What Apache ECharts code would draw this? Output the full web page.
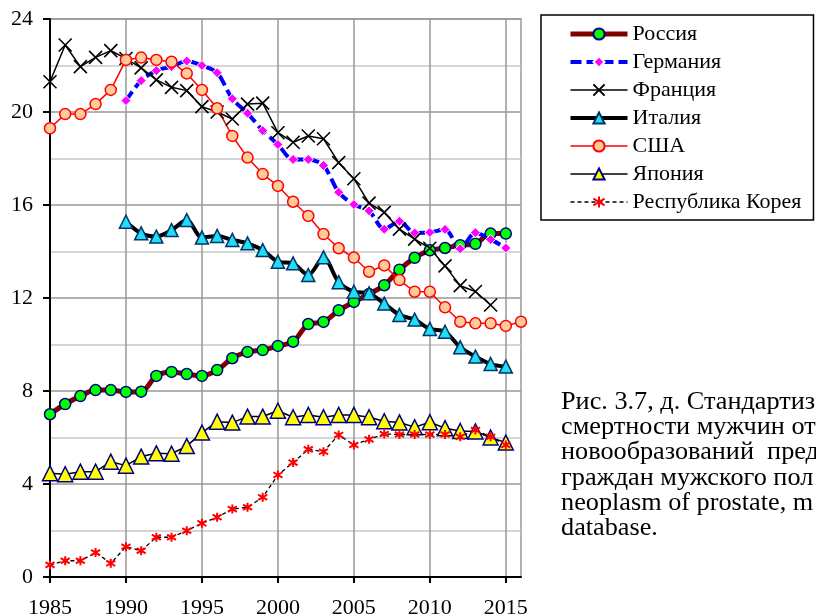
<!DOCTYPE html>
<html>
<head>
<meta charset="utf-8">
<script src="https://cdn.jsdelivr.net/npm/echarts@6/dist/echarts.min.js"></script>
<style>
  html, body { margin: 0; padding: 0; background: #fff; }
  #chart { width: 816px; height: 616px; }
</style>
</head>
<body>
<div id="chart"></div>
<script>
// годы
let years = [];
for (let y = 1985; y <= 2016; y++) years.push(y);

// значения по странам (null - нет данных)
let russia = [7.0, 7.44, 7.78, 8.04, 8.04, 7.96, 7.97, 8.65, 8.82, 8.73, 8.65, 8.9, 9.41, 9.68, 9.76, 9.94,
  10.12, 10.88, 10.97, 11.47, 11.83, 12.17, 12.55, 13.22, 13.73, 14.05, 14.15, 14.27, 14.33, 14.77, 14.77, null];
let germany = [null, null, null, null, null, 20.49, 21.35, 21.78, 21.95, 22.19, 22.0, 21.69, 20.57, 19.95, 19.2, 18.6,
  17.96, 17.96, 17.7, 16.55, 16.02, 15.75, 14.96, 15.3, 14.8, 14.82, 14.95, 14.12, 14.81, 14.52, 14.15, null];
let france = [21.3, 22.88, 21.95, 22.35, 22.64, 22.3, 21.9, 21.38, 21.06, 20.92, 20.23, 20.0, 19.7, 20.34, 20.38, 19.11,
  18.7, 18.97, 18.85, 17.82, 17.13, 16.08, 15.68, 14.96, 14.53, 14.14, 13.38, 12.53, 12.28, 11.7, null, null];
let italy = [null, null, null, null, null, 15.28, 14.78, 14.64, 14.92, 15.35, 14.6, 14.67, 14.5, 14.35, 14.06, 13.56,
  13.49, 12.99, 13.75, 12.68, 12.27, 12.2, 11.76, 11.27, 11.07, 10.67, 10.55, 9.88, 9.48, 9.16, 9.05, null];
let usa = [19.3, 19.91, 19.91, 20.34, 20.95, 22.24, 22.34, 22.24, 22.16, 21.66, 20.95, 20.16, 18.97, 18.04, 17.33, 16.82,
  16.14, 15.53, 14.75, 14.14, 13.74, 13.13, 13.4, 12.77, 12.27, 12.27, 11.6, 10.98, 10.91, 10.91, 10.8, 10.98];
let japan = [4.46, 4.42, 4.53, 4.53, 4.96, 4.79, 5.18, 5.32, 5.3, 5.63, 6.21, 6.68, 6.64, 6.9, 6.9, 7.15,
  6.87, 6.97, 6.87, 6.97, 6.97, 6.87, 6.7, 6.65, 6.44, 6.66, 6.4, 6.28, 6.26, 6.0, 5.78, null];
let korea = [0.52, 0.7, 0.7, 1.05, 0.59, 1.3, 1.13, 1.71, 1.71, 1.99, 2.31, 2.57, 2.92, 3.0, 3.43, 4.39,
  4.92, 5.49, 5.39, 6.11, 5.68, 5.92, 6.15, 6.13, 6.13, 6.13, 6.13, 6.03, 6.32, 6.03, 5.68, null];

// подписи
let names = ['Россия', 'Германия', 'Франция', 'Италия', 'США', 'Япония', 'Республика Корея'];
let caption = [
  'Рис. 3.7, д. Стандартиз',
  'смертности мужчин от',
  'новообразований  пред',
  'граждан мужского пол',
  'neoplasm of prostate, m',
  'database.'
];

const FONT = 'Liberation Serif';

// пары [год, значение] без пропусков
function pairs(arr) {
  let out = [];
  arr.forEach((v, i) => {
    if (v !== null) out.push([years[i], v]);
  });
  return out;
}

let chart = echarts.init(document.getElementById('chart'), null, { renderer: 'canvas' });

let series = [
  {
    name: names[0], type: 'line', data: pairs(russia), smooth: 0.3,
    lineStyle: { color: '#800000', width: 5 },
    symbol: 'circle', symbolSize: 11,
    itemStyle: { color: '#00ff00', borderColor: '#000080', borderWidth: 1.5 }
  },
  {
    name: names[1], type: 'line', data: pairs(germany), smooth: 0.3,
    lineStyle: { color: '#0000ff', width: 4, type: [11, 5] },
    symbol: 'diamond', symbolSize: 10,
    itemStyle: { color: '#ff00ff', borderColor: '#ffffff', borderWidth: 1 }
  },
  {
    name: names[2], type: 'line', data: pairs(france),
    lineStyle: { color: '#000000', width: 1.5 },
    symbol: 'path://M0,0L10,10M10,0L0,10', symbolSize: 13,
    itemStyle: { color: '#000000', borderColor: '#000000', borderWidth: 1.6 }
  },
  {
    name: names[3], type: 'line', data: pairs(italy), smooth: 0.3,
    lineStyle: { color: '#000000', width: 4 },
    symbol: 'triangle', symbolSize: 13,
    itemStyle: { color: '#22ddf5', borderColor: '#003366', borderWidth: 1.5 }
  },
  {
    name: names[4], type: 'line', data: pairs(usa),
    lineStyle: { color: '#ff0000', width: 1.5 },
    symbol: 'circle', symbolSize: 11,
    itemStyle: { color: '#ffcc99', borderColor: '#ff0000', borderWidth: 1.5 }
  },
  {
    name: names[5], type: 'line', data: pairs(japan),
    lineStyle: { color: '#000000', width: 1.5 },
    symbol: 'triangle', symbolSize: 15,
    itemStyle: { color: '#ffff00', borderColor: '#000080', borderWidth: 1.5 }
  },
  {
    name: names[6], type: 'line', data: pairs(korea),
    lineStyle: { color: '#000000', width: 1.3, type: [4, 3] },
    symbol: 'path://M5,0L5,10M0,2L10,8M0,8L10,2', symbolSize: 9,
    itemStyle: { color: '#ff0000', borderColor: '#ff0000', borderWidth: 2 }
  }
];

let option = {
  backgroundColor: '#ffffff',
  animation: false,
  grid: {
    left: 50, right: 295, top: 19, bottom: 39,
    outerBoundsMode: 'none',
    show: true, borderColor: '#999999', borderWidth: 1.5
  },
  xAxis: {
    type: 'value', min: 1985, max: 2016, interval: 5,
    axisLine: { lineStyle: { color: '#000', width: 2 } },
    axisTick: {
      show: true, length: 6, lineStyle: { color: '#000', width: 2 },
      customValues: years.filter(y => y % 5 === 0)
    },
    axisLabel: {
      customValues: years.filter(y => y % 5 === 0),
      formatter: v => String(v),
      color: '#000', fontFamily: FONT, fontSize: 22, margin: 20
    },
    splitLine: { show: true, lineStyle: { color: '#999999', width: 1.5 } }
  },
  yAxis: {
    type: 'value', min: 0, max: 24, interval: 4,
    axisLine: { show: true, lineStyle: { color: '#000', width: 2 } },
    axisTick: { show: true, length: 7, lineStyle: { color: '#000', width: 2 } },
    axisLabel: { color: '#000', fontFamily: FONT, fontSize: 22, margin: 17 },
    splitLine: { show: true, lineStyle: { color: '#999999', width: 1.5 } },
    minorTick: { show: false, splitNumber: 2 },
    minorSplitLine: { show: true, lineStyle: { color: '#c8c8c8', width: 1.5 } }
  },
  legend: {
    orient: 'vertical',
    left: 541, top: 15,
    padding: [8, 12, 7, 27],
    itemWidth: 57, itemHeight: 14, itemGap: 6,
    borderColor: '#000', borderWidth: 1.5,
    lineStyle: { width: 'inherit' },
    textStyle: { color: '#000', fontFamily: FONT, fontSize: 22, lineHeight: 21 },
    data: names
  },
  graphic: caption.map((t, i) => ({
    type: 'text',
    x: 561,
    y: 390 + i * 25.2,
    scaleX: 1.05,
    style: { text: t, fill: '#000', font: '25px "Liberation Serif"' }
  })),
  series: series
};

chart.setOption(option);
</script>
</body>
</html>
